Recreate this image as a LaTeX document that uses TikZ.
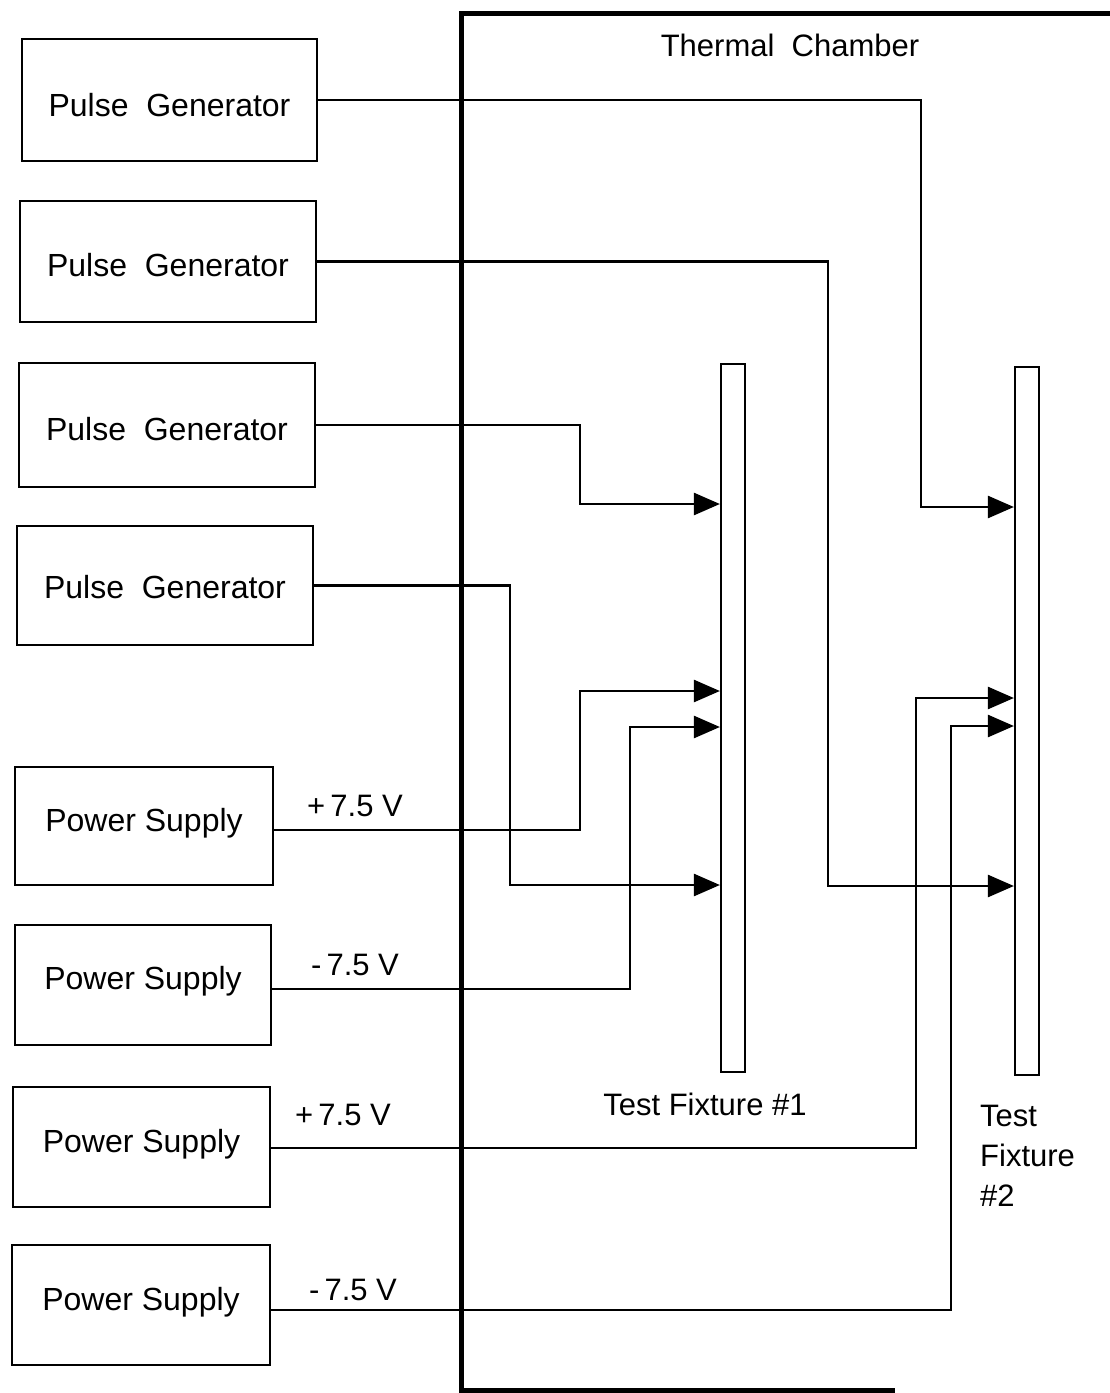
\documentclass[tikz,border=0pt]{standalone}
\usepackage{fontspec}
\setmainfont{Liberation Sans}
\usetikzlibrary{arrows.meta}
\newcommand\boxtext[2]{\raisebox{-#1pt}[0pt][0pt]{#2}}
\begin{document}
\begin{tikzpicture}[x=1pt,y=-1pt,
  txt/.style={font=\fontsize{31}{40}\selectfont},
  box/.style={draw,line width=2.4pt,inner sep=0pt,font=\fontsize{32}{40}\selectfont},
  fixture/.style={draw,line width=2.2pt,inner sep=0pt,minimum width=24pt,minimum height=708pt},
  wire/.style={line width=2.6pt},
  arr/.style={wire,-{Triangle[length=26pt,width=22pt]}},
  lbl/.style={txt,inner sep=0pt}]
\useasboundingbox (0,0) rectangle (1110,1393);
% thermal chamber
\draw[line width=5pt] (1115,13) -| (461,1390) -- (895,1390);
\node[lbl] (tc) at (790,45) {Thermal\ \ Chamber};
% sources
\node[box,minimum width=295pt,minimum height=122pt] (pg1) at (169.5,100) {\boxtext{16}{Pulse\ \ Generator}};
\node[box,minimum width=296pt,minimum height=121pt] (pg2) at (168,261.5) {\boxtext{15}{Pulse\ \ Generator}};
\node[box,minimum width=296pt,minimum height=124pt] (pg3) at (167,425) {\boxtext{15.5}{Pulse\ \ Generator}};
\node[box,minimum width=296pt,minimum height=119pt] (pg4) at (165,585.5) {\boxtext{13}{Pulse\ \ Generator}};
\node[box,minimum width=258pt,minimum height=118pt] (ps1) at (144,826) {\boxtext{5}{Power Supply}};
\node[box,minimum width=256pt,minimum height=120pt] (ps2) at (143,985) {\boxtext{4.5}{Power Supply}};
\node[box,minimum width=257pt,minimum height=120pt] (ps3) at (141.5,1147) {\boxtext{5.5}{Power Supply}};
\node[box,minimum width=258pt,minimum height=120pt] (ps4) at (141,1305) {\boxtext{5.5}{Power Supply}};
% fixtures
\node[fixture] (tf1) at (733,718) {};
\node[fixture] (tf2) at (1027,721) {};
\node[lbl] (tf1l) at (705,1104) {Test Fixture \#1};
\node[lbl,align=left,anchor=north west] (tf2l) at (980,1105) {Test\\Fixture\\\#2};
% voltage labels
\node[lbl] (v1) at (355,806) {+\,7.5 V};
\node[lbl] (v2) at (355,965) {-\,7.5 V};
\node[lbl] (v3) at (343,1115) {+\,7.5 V};
\node[lbl] (v4) at (353,1290) {-\,7.5 V};
% bend points
\coordinate (k1) at (921,507);
\coordinate (k2) at (828,886);
\coordinate (k3) at (580,504);
\coordinate (k4) at (510,885);
\coordinate (k5) at (580,691);
\coordinate (k6) at (630,727);
\coordinate (k7) at (916,698);
\coordinate (k8) at (951,726);
% wires
\draw[arr] (pg1.east) -| (k1) -- (tf2.west |- k1);
\draw[arr] (pg2.east) -| (k2) -- (tf2.west |- k2);
\draw[arr] (pg3.east) -| (k3) -- (tf1.west |- k3);
\draw[arr] (pg4.east) -| (k4) -- (tf1.west |- k4);
\draw[arr] ([yshift=-4pt]ps1.east) -| (k5) -- (tf1.west |- k5);
\draw[arr] ([yshift=-4pt]ps2.east) -| (k6) -- (tf1.west |- k6);
\draw[arr] ([yshift=-1pt]ps3.east) -| (k7) -- (tf2.west |- k7);
\draw[arr] ([yshift=-5pt]ps4.east) -| (k8) -- (tf2.west |- k8);
\end{tikzpicture}
\end{document}
